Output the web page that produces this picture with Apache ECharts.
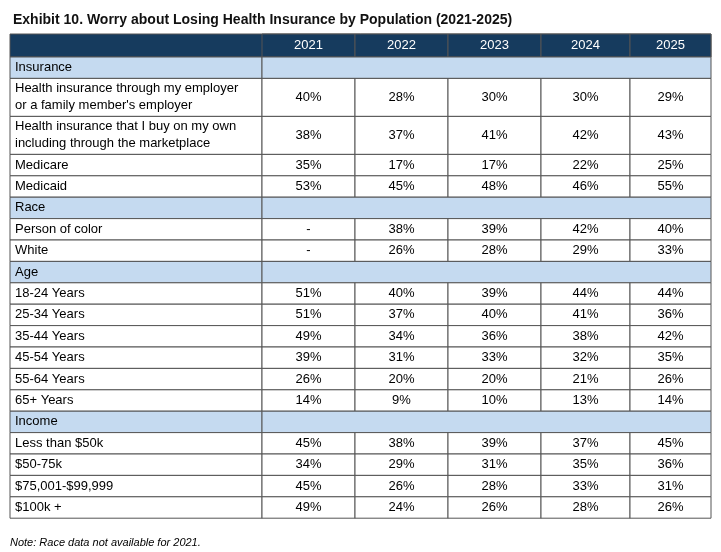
<!DOCTYPE html>
<html><head><meta charset="utf-8">
<script src="https://cdn.jsdelivr.net/npm/echarts@6/dist/echarts.min.js"></script>
<style>html,body{margin:0;padding:0;background:#fff}#c{width:721px;height:552px}</style>
</head><body><div id="c"></div>
<script>
var years = ['2021', '2022', '2023', '2024', '2025'];
var insuranceLabels = ['Health insurance through my employer\nor a family member\'s employer',
  'Health insurance that I buy on my own\nincluding through the marketplace', 'Medicare', 'Medicaid'];
var insuranceValues = [[40, 28, 30, 30, 29], [38, 37, 41, 42, 43], [35, 17, 17, 22, 25], [53, 45, 48, 46, 55]];
var raceLabels = ['Person of color', 'White'];
var raceValues = [[null, 38, 39, 42, 40], [null, 26, 28, 29, 33]];
var ageLabels = ['18-24 Years', '25-34 Years', '35-44 Years', '45-54 Years', '55-64 Years', '65+ Years'];
var ageValues = [[51, 40, 39, 44, 44], [51, 37, 40, 41, 36], [49, 34, 36, 38, 42],
  [39, 31, 33, 32, 35], [26, 20, 20, 21, 26], [14, 9, 10, 13, 14]];
var incomeLabels = ['Less than $50k', '$50-75k', '$75,001-$99,999', '$100k +'];
var incomeValues = [[45, 38, 39, 37, 45], [34, 29, 31, 35, 36], [45, 26, 28, 33, 31], [49, 24, 26, 28, 26]];

var sections = [
  { name: 'Insurance', labels: insuranceLabels, values: insuranceValues },
  { name: 'Race', labels: raceLabels, values: raceValues },
  { name: 'Age', labels: ageLabels, values: ageValues },
  { name: 'Income', labels: incomeLabels, values: incomeValues }
];

(function () {
  // layout
  var colX = [10, 262, 355, 448, 541, 630, 711];
  var tableTop = 34, headH = 23, rowH = 21.4, twoH = 38;
  var font = '"Liberation Sans", Arial, sans-serif';
  var els = [];
  var lineColor = '#555';

  function rect(x, y, w, h, fill) {
    els.push({ type: 'rect', shape: { x: x, y: y, width: w, height: h },
      style: { fill: fill, stroke: lineColor, lineWidth: 1 } });
  }
  function text(x, y, s, opt) {
    els.push({ type: 'text', x: x, y: y, style: Object.assign({
      text: s, font: '13px ' + font, fill: '#000', verticalAlign: 'middle', lineHeight: 17 }, opt || {}) });
  }

  var y = tableTop;
  // header
  rect(colX[0], y, colX[6] - colX[0], headH, '#163b5e');
  for (var i = 0; i < years.length; i++) {
    rect(colX[i + 1], y, colX[i + 2] - colX[i + 1], headH, '#163b5e');
    text((colX[i + 1] + colX[i + 2]) / 2, y + headH / 2, years[i], { fill: '#fff', align: 'center' });
  }
  y += headH;

  sections.forEach(function (sec) {
    rect(colX[0], y, colX[1] - colX[0], rowH, '#c5daf0');
    rect(colX[1], y, colX[6] - colX[1], rowH, '#c5daf0');
    text(colX[0] + 5, y + rowH / 2, sec.name);
    y += rowH;
    sec.labels.forEach(function (lab, r) {
      var h = lab.indexOf('\n') >= 0 ? twoH : rowH;
      rect(colX[0], y, colX[1] - colX[0], h, '#fff');
      text(colX[0] + 5, y + h / 2, lab);
      sec.values[r].forEach(function (v, c) {
        rect(colX[c + 1], y, colX[c + 2] - colX[c + 1], h, '#fff');
        text((colX[c + 1] + colX[c + 2]) / 2, y + h / 2, v == null ? '-' : v + '%', { align: 'center' });
      });
      y += h;
    });
  });

  text(10, 543, 'Note: Race data not available for 2021.', { font: 'italic 11px ' + font });

  var chart = echarts.init(document.getElementById('c'));
  chart.setOption({
    animation: false,
    title: { text: 'Exhibit 10. Worry about Losing Health Insurance by Population (2021-2025)',
      left: 8, top: 8, textStyle: { fontFamily: font, fontSize: 14, fontWeight: 'bold', color: '#111' } },
    graphic: { elements: els }
  });
})();
</script></body></html>
